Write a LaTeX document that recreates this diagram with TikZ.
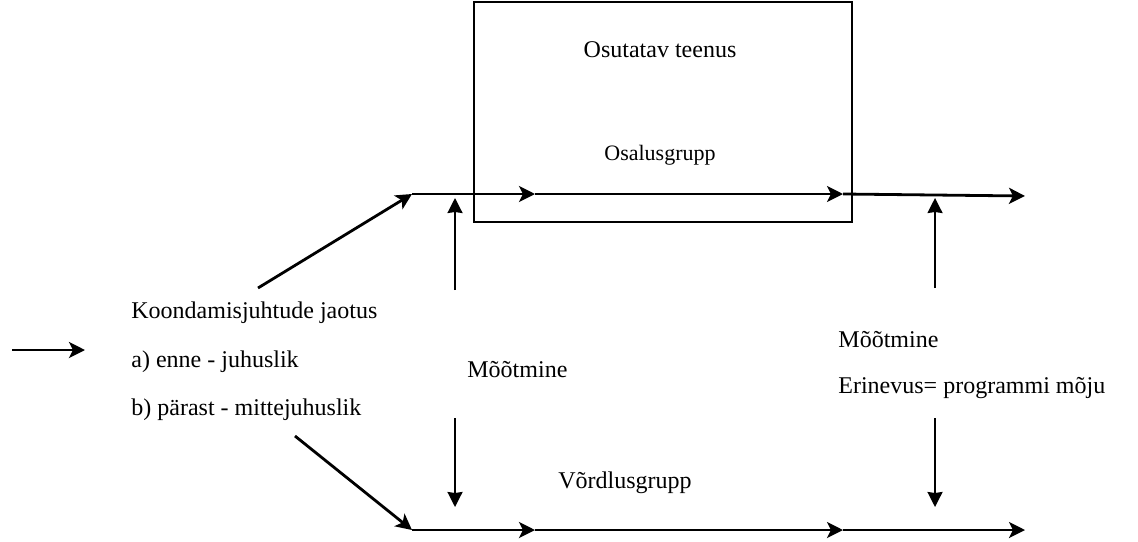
\documentclass[tikz,border=0pt]{standalone}
\usepackage{fontspec}
\setmainfont{Liberation Serif}
\usetikzlibrary{arrows.meta}

\begin{document}
\begin{tikzpicture}[x=0.5pt,y=-0.5pt,
    nool/.style={-{Stealth[length=8pt,width=8pt,inset=2pt]},line width=1.4pt},
    mootnool/.style={-{Stealth[length=7.5pt,width=7.5pt,inset=0.5pt]},line width=1pt},
    silt/.style={inner sep=0pt,anchor=west,font=\fontsize{12}{14}\selectfont}]
        % Lõuend
        \useasboundingbox (0,0) rectangle (1138,541);

        % Osutatav teenus (kast)
        \draw[line width=1pt] (474,2) rectangle (852,222);
        \node[silt,anchor=center] (teenus) at (660,50) {Osutatav teenus};
        \node[silt,anchor=center,font=\fontsize{11}{13}\selectfont] (osalus) at (660,155) {Osalusgrupp};

        % Ajatelje punktid
        \coordinate (u0) at (412,194);
        \coordinate (u1) at (535,194);
        \coordinate (u2) at (843,194);
        \coordinate (u3) at (1025,196);
        \coordinate (a0) at (412,530);
        \coordinate (a1) at (535,530);
        \coordinate (a2) at (843,530);
        \coordinate (a3) at (1025,530);

        % Osalusgrupp
        \draw[nool] (u0) -- (u1);
        \draw[nool] (u1) -- (u2);
        \draw[nool] (u2) -- (u3);
        % Võrdlusgrupp
        \draw[nool] (a0) -- (a1);
        \draw[nool] (a1) -- (a2);
        \draw[nool] (a2) -- (a3);
        \node[silt,anchor=center] (vordlus) at (625,483) {Võrdlusgrupp};

        % Koondamisjuhtude jaotus
        \node[silt] (jaotus) at (131,313) {Koondamisjuhtude jaotus};
        \node[silt] (enne) at (131,362) {a) enne - juhuslik};
        \node[silt] (parast) at (131,410) {b) pärast - mittejuhuslik};
        \coordinate (sisse) at (12,350);
        \draw[nool] (sisse) -- (85,350);
        \coordinate (j1) at (258,288);
        \coordinate (j2) at (295,436);
        \draw[nool] (j1) -- (u0);
        \draw[nool] (j2) -- (a0);

        % Mõõtmine
        \node[silt] (moot1) at (467,370) {Mõõtmine};
        \node[silt] (moot2) at (838,340) {Mõõtmine};
        \node[silt] (erinevus) at (838,388) {Erinevus= programmi mõju};
        \draw[mootnool] (455,290) -- (455,198);
        \draw[mootnool] (455,418) -- (455,507);
        \draw[mootnool] (935,288) -- (935,198);
        \draw[mootnool] (935,418) -- (935,507);
      \end{tikzpicture}
\end{document}
